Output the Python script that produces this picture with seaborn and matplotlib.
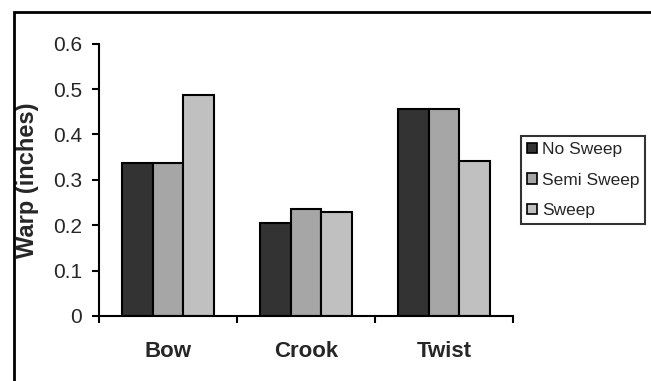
import matplotlib
matplotlib.use("Agg")
import matplotlib.pyplot as plt
import seaborn as sns
import pandas as pd
from matplotlib.patches import Rectangle

categories = ["Bow", "Crook", "Twist"]
series = ["No Sweep", "Semi Sweep", "Sweep"]
no_sweep = [0.338, 0.205, 0.457]
semi_sweep = [0.338, 0.236, 0.457]
sweep = [0.488, 0.228, 0.342]
colors = ["#333333", "#A6A6A6", "#C0C0C0"]

rows = []
for s, vals in zip(series, [no_sweep, semi_sweep, sweep]):
    for c, v in zip(categories, vals):
        rows.append({"cat": c, "series": s, "val": v})
df = pd.DataFrame(rows)

sns.set_style("ticks")
plt.rcParams["font.family"] = ["Liberation Sans", "DejaVu Sans"]

fig = plt.figure(figsize=(6.51, 3.81), dpi=100)
ax = fig.add_axes([0.152, 0.171, 0.636, 0.714])

sns.barplot(data=df, x="cat", y="val", hue="series", palette=colors,
            order=categories, hue_order=series, width=0.667,
            edgecolor="black", linewidth=1.5, ax=ax, legend=True)

ax.set_ylim(0, 0.6)
ax.set_xlim(-0.5, 2.5)
ax.set_yticks([0, 0.1, 0.2, 0.3, 0.4, 0.5, 0.6])
ax.set_yticklabels(["0", "0.1", "0.2", "0.3", "0.4", "0.5", "0.6"], fontsize=15)
ax.set_xticks(range(3))
ax.set_xticklabels(categories, fontsize=16, fontweight="bold")
ax.tick_params(axis="x", length=0, pad=18)
ax.set_xticks([-0.5, 0.5, 1.5, 2.5], minor=True)
ax.tick_params(axis="x", which="minor", length=5, width=1.5, direction="out", color="black")
ax.tick_params(axis="y", length=5, width=1.5, direction="out", color="black", pad=7)
ax.set_xlabel("")
ax.set_ylabel("Warp (inches)", fontsize=17, fontweight="bold", labelpad=10)
for sp in ["top", "right"]:
    ax.spines[sp].set_visible(False)
for sp in ["left", "bottom"]:
    ax.spines[sp].set_linewidth(1.5)
    ax.spines[sp].set_color("black")

leg = ax.legend(loc="upper left", bbox_to_anchor=(521 / 651, 1 - 136 / 381), bbox_transform=fig.transFigure,
                fontsize=12.5, frameon=True, fancybox=False, handlelength=0.55, handleheight=0.55,
                handletextpad=0.3, borderpad=0.35, labelspacing=0.9, borderaxespad=0)
leg.get_frame().set_edgecolor("black")
leg.get_frame().set_linewidth(1.5)
for h in leg.legend_handles:
    h.set_edgecolor("black")
    h.set_linewidth(1.2)

fig.patches.append(Rectangle((14 / 651, -0.05), 1.0, 0.05 + (381 - 12) / 381,
                             transform=fig.transFigure, fill=False,
                             edgecolor="black", linewidth=2))

fig.savefig("out.png", dpi=100)
